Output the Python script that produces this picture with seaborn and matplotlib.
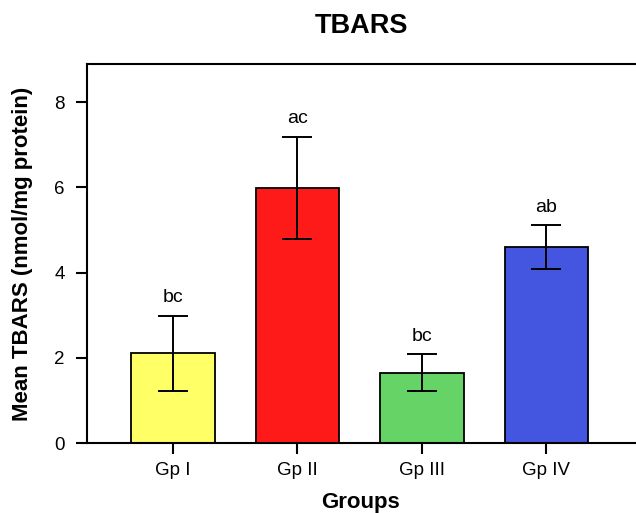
import matplotlib
matplotlib.use("Agg")
import matplotlib.pyplot as plt
import seaborn as sns
import pandas as pd

groups = ["Gp I", "Gp II", "Gp III", "Gp IV"]
means = [2.11, 5.99, 1.65, 4.60]
errors = [0.88, 1.20, 0.44, 0.52]
letters = ["bc", "ac", "bc", "ab"]
colors = ["#FFFF66", "#FF1A1A", "#66D366", "#4455E0"]

sns.set_style("white")
plt.rcParams['font.family'] = ['Liberation Sans', 'DejaVu Sans']
plt.rcParams['text.color'] = 'black'
plt.rcParams['axes.labelcolor'] = 'black'
plt.rcParams['xtick.color'] = 'black'
plt.rcParams['ytick.color'] = 'black'

df = pd.DataFrame({"Group": groups, "Mean": means})

fig = plt.figure(figsize=(6.36, 5.13), dpi=100)
ax = fig.add_axes([87/636, 70/513, 1 - 87/636, (443-64)/513])

sns.barplot(data=df, x="Group", y="Mean", hue="Group", palette=colors,
            order=groups, hue_order=groups, width=0.67, errorbar=None,
            edgecolor="black", linewidth=1.3, legend=False, saturation=1, ax=ax)
ax.errorbar(range(len(groups)), means, yerr=errors, fmt="none", ecolor="black",
            elinewidth=1.4, capsize=11, capthick=1.4, zorder=5)
for i, (m, e, t) in enumerate(zip(means, errors, letters)):
    ax.text(i, m + e + 0.22, t, ha="center", va="bottom", fontsize=14, color="black")

ax.set_xlim(-0.69, 3.72)
ax.set_ylim(0, 8.9)
ax.set_yticks([0, 2, 4, 6, 8])
ax.spines["right"].set_visible(False)
for s in ["left", "top", "bottom"]:
    ax.spines[s].set_linewidth(1.5)
    ax.spines[s].set_color("black")
ax.tick_params(axis="both", direction="out", length=8, width=1.5, color="black",
               labelsize=13.5, left=True, bottom=True, labelcolor="black")
ax.tick_params(axis="y", pad=8)
ax.tick_params(axis="x", pad=6)
ax.set_title("TBARS", fontsize=19.5, fontweight="bold", pad=22, color="black")
ax.set_xlabel("Groups", fontsize=16, fontweight="bold")
ax.set_ylabel("Mean TBARS (nmol/mg protein)", fontsize=16, fontweight="bold")
ax.xaxis.set_label_coords(274/549, (443-492)/379)
ax.yaxis.set_label_coords((33-87)/549, 0.5)

fig.savefig("out.png", dpi=100)
